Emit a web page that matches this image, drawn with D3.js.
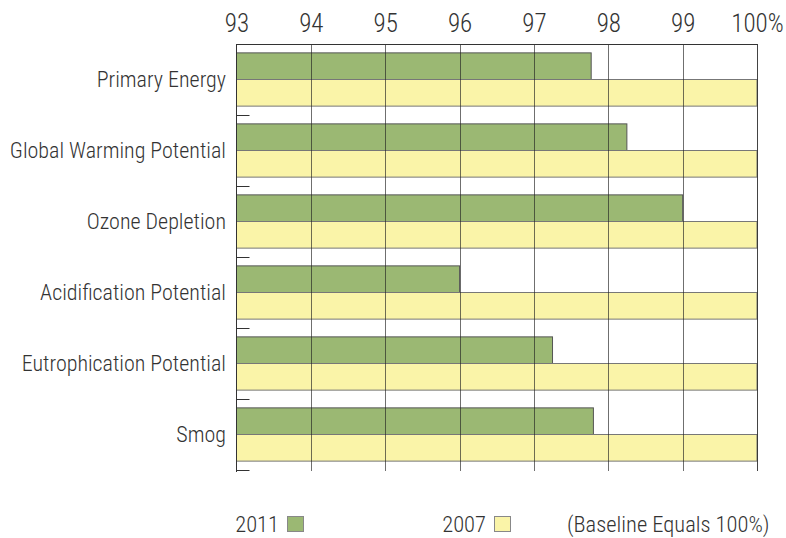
<!DOCTYPE html>
<html><head><meta charset="utf-8">
<script src="https://cdn.jsdelivr.net/npm/d3@7"></script>
<style>
body{margin:0;background:#fff;}
text{font-family:"Roboto Condensed","Liberation Sans Narrow",Roboto,sans-serif;font-weight:300;fill:#333;}
</style></head>
<body><svg id="c" width="786" height="538"></svg>
<script>
const categories = ["Primary Energy","Global Warming Potential","Ozone Depletion","Acidification Potential","Eutrophication Potential","Smog"];
const values2011 = [97.77, 98.25, 99.0, 96.0, 97.25, 97.8];
const values2007 = [100, 100, 100, 100, 100, 100];
const tickValues = [93,94,95,96,97,98,99,100];
const tickLabels = ["93","94","95","96","97","98","99","100%"];
const seriesNames = ["2011","2007"];
const note = "(Baseline Equals 100%)";

const svg = d3.select("#c");
const L=236.5, R=757, T=44, B=470;
const x = d3.scaleLinear().domain([93,100]).range([L,R]);
const y = d3.scaleBand().domain(categories).range([T,B]).paddingInner(0.25).paddingOuter(0.125);
const colors = {"2011":"#9bb873","2007":"#faf4a8"};

// bars
const g = svg.append("g");
categories.forEach((c,i)=>{
  const bh = y.bandwidth()/2;
  g.append("rect").attr("x",x(93)).attr("y",y(c)).attr("width",x(values2011[i])-x(93)).attr("height",bh)
    .attr("fill",colors["2011"]).attr("stroke","#555").attr("stroke-width",1);
  g.append("rect").attr("x",x(93)).attr("y",y(c)+bh).attr("width",x(values2007[i])-x(93)).attr("height",bh)
    .attr("fill",colors["2007"]).attr("stroke","#777").attr("stroke-width",1);
});

// gridlines on top
const grid = svg.append("g");
tickValues.slice(1).forEach(v=>{
  grid.append("line").attr("x1",Math.round(x(v))+0.5).attr("x2",Math.round(x(v))+0.5).attr("y1",T).attr("y2",B+1)
    .attr("stroke","#222").attr("stroke-opacity",v===100?0.85:0.65);
});
grid.append("line").attr("x1",L).attr("x2",R+0.5).attr("y1",T+0.5).attr("y2",T+0.5).attr("stroke","#333");
grid.append("line").attr("x1",L).attr("x2",L).attr("y1",T).attr("y2",B+2).attr("stroke","#333");

// category boundary ticks
const step = y.step();
d3.range(1,categories.length+1).forEach(k=>{
  const yy = Math.round(T + step*k)+0.5;
  grid.append("line").attr("x1",L).attr("x2",L+13).attr("y1",yy).attr("y2",yy).attr("stroke","#333");
});

// top axis labels
const topAxis = d3.axisTop(x).tickValues(tickValues).tickFormat((d,i)=>tickLabels[i]).tickSize(0);
const ax = svg.append("g").attr("transform",`translate(0,${T})`).call(topAxis);
ax.select(".domain").remove();
ax.selectAll("text").attr("y",-12).attr("font-size",25).attr("fill","#333")
  .style("font-family",'"Roboto Condensed","Liberation Sans Narrow",Roboto,sans-serif').style("font-weight",300);

// category labels
svg.append("g").selectAll("text").data(categories).join("text")
  .attr("x",226).attr("y",d=>y(d)+y.bandwidth()/2).attr("dy","0.35em")
  .attr("text-anchor","end").attr("font-size",22).text(d=>d);

// legend
const lg = svg.append("g");
const lx = [279, 486];
seriesNames.forEach((s,i)=>{
  lg.append("text").attr("x",lx[i]).attr("y",532).attr("text-anchor","end").attr("font-size",22.5).text(s);
  lg.append("rect").attr("x",lx[i]+8.5).attr("y",516.5).attr("width",16).attr("height",15)
    .attr("fill",colors[s]).attr("stroke","#888");
});
lg.append("text").attr("x",567).attr("y",532).attr("font-size",22.5).text(note);
</script></body></html>
